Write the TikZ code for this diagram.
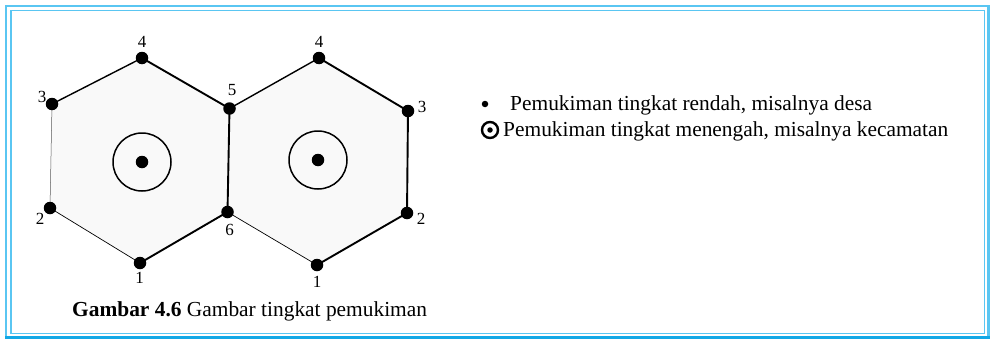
\documentclass[tikz,border=0pt]{standalone}
\usepackage{fontspec}
\setmainfont{Liberation Serif}
\definecolor{frameA}{RGB}{90,198,242}
\definecolor{frameB}{RGB}{18,168,230}
\definecolor{hexfill}{RGB}{249,249,249}
\tikzset{
  vtx/.style={circle,fill=black,inner sep=0pt,minimum size=12.5pt},
  lbl/.style={font=\fontsize{17}{19}\selectfont,inner sep=0pt},
  ethick/.style={line width=1.9pt},
  emed/.style={line width=1.4pt},
  ethin/.style={line width=0.7pt},
  evthin/.style={line width=0.5pt,black!65},
  legtext/.style={font=\fontsize{21.4}{25}\selectfont,anchor=base west,inner sep=0pt},
}
\begin{document}
\begin{tikzpicture}[x=1pt,y=-1pt]
\useasboundingbox (0,0) rectangle (990,340);
% frame
\draw[frameA,line width=2.8pt] (6,6) rectangle (988.2,337.5);
\draw[frameB,line width=3pt] (5,337.8) -- (990,337.8);
\draw[frameA,line width=1.3pt] (11,10.8) rectangle (984.8,333.5);
% vertex coordinates
\coordinate (L4) at (142,58);
\coordinate (L3) at (52,104);
\coordinate (S5) at (229.5,108.5);
\coordinate (L2) at (50,208);
\coordinate (S6) at (227.5,212);
\coordinate (L1) at (140,263);
\coordinate (R4) at (319,58);
\coordinate (R3) at (408,111);
\coordinate (R2) at (407,213);
\coordinate (R1) at (317,265);
% fills
\fill[hexfill] (L4) -- (S5) -- (S6) -- (L1) -- (L2) -- (L3) -- cycle;
\fill[hexfill] (R4) -- (R3) -- (R2) -- (R1) -- (S6) -- (S5) -- cycle;
% left hexagon edges
\draw[emed] (L3) -- (L4);
\draw[ethick] (L4) -- (S5);
\draw[ethick] (S5) -- (S6);
\draw[ethick] (S6) -- (L1);
\draw[ethin] (L1) -- (L2);
\draw[evthin] (L2) -- (L3);
% right hexagon edges
\draw[emed] (S5) -- (R4);
\draw[ethick] (R4) -- (R3);
\draw[ethick] (R3) -- (R2);
\draw[ethick] (R2) -- (R1);
\draw[ethin] (R1) -- (S6);
% vertex dots
\foreach \v in {L1,L2,L3,L4,S5,S6,R1,R2,R3,R4}
  \node[vtx] (d\v) at (\v) {};
% centres
\node[circle,draw,line width=1.5pt,minimum size=58pt,inner sep=0pt] (cL) at (142,162) {};
\node[circle,fill=black,inner sep=0pt,minimum size=12.5pt] (cLd) at (cL) {};
\node[circle,draw,line width=1.5pt,minimum size=58pt,inner sep=0pt] (cR) at (318,160) {};
\node[circle,fill=black,inner sep=0pt,minimum size=12.5pt] (cRd) at (cR) {};
% labels
\node[lbl] (t4L) at (142,42) {4};
\node[lbl] (t3L) at (42,97) {3};
\node[lbl] (t5) at (232,90) {5};
\node[lbl] (t2L) at (40,219) {2};
\node[lbl] (t6) at (229.5,230) {6};
\node[lbl] (t1L) at (139.5,278) {1};
\node[lbl] (t4R) at (319,42) {4};
\node[lbl] (t3R) at (422,107) {3};
\node[lbl] (t2R) at (421,219) {2};
\node[lbl] (t1R) at (317,282) {1};
% legend
\node[circle,fill=black,inner sep=0pt,minimum size=6.5pt] (b1) at (485,104) {};
\node[legtext] (l1) at (510,110) {Pemukiman tingkat rendah, misalnya desa};
\node[circle,draw,line width=2.4pt,minimum size=16pt,inner sep=0pt] (b2) at (490,130) {};
\node[circle,fill=black,inner sep=0pt,minimum size=5.5pt] (b2d) at (b2) {};
\node[legtext] (l2) at (503,136) {Pemukiman tingkat menengah, misalnya kecamatan};
% caption
\node[legtext] (cap) at (72,316) {\textbf{Gambar 4.6} Gambar tingkat pemukiman};
\end{tikzpicture}
\end{document}
